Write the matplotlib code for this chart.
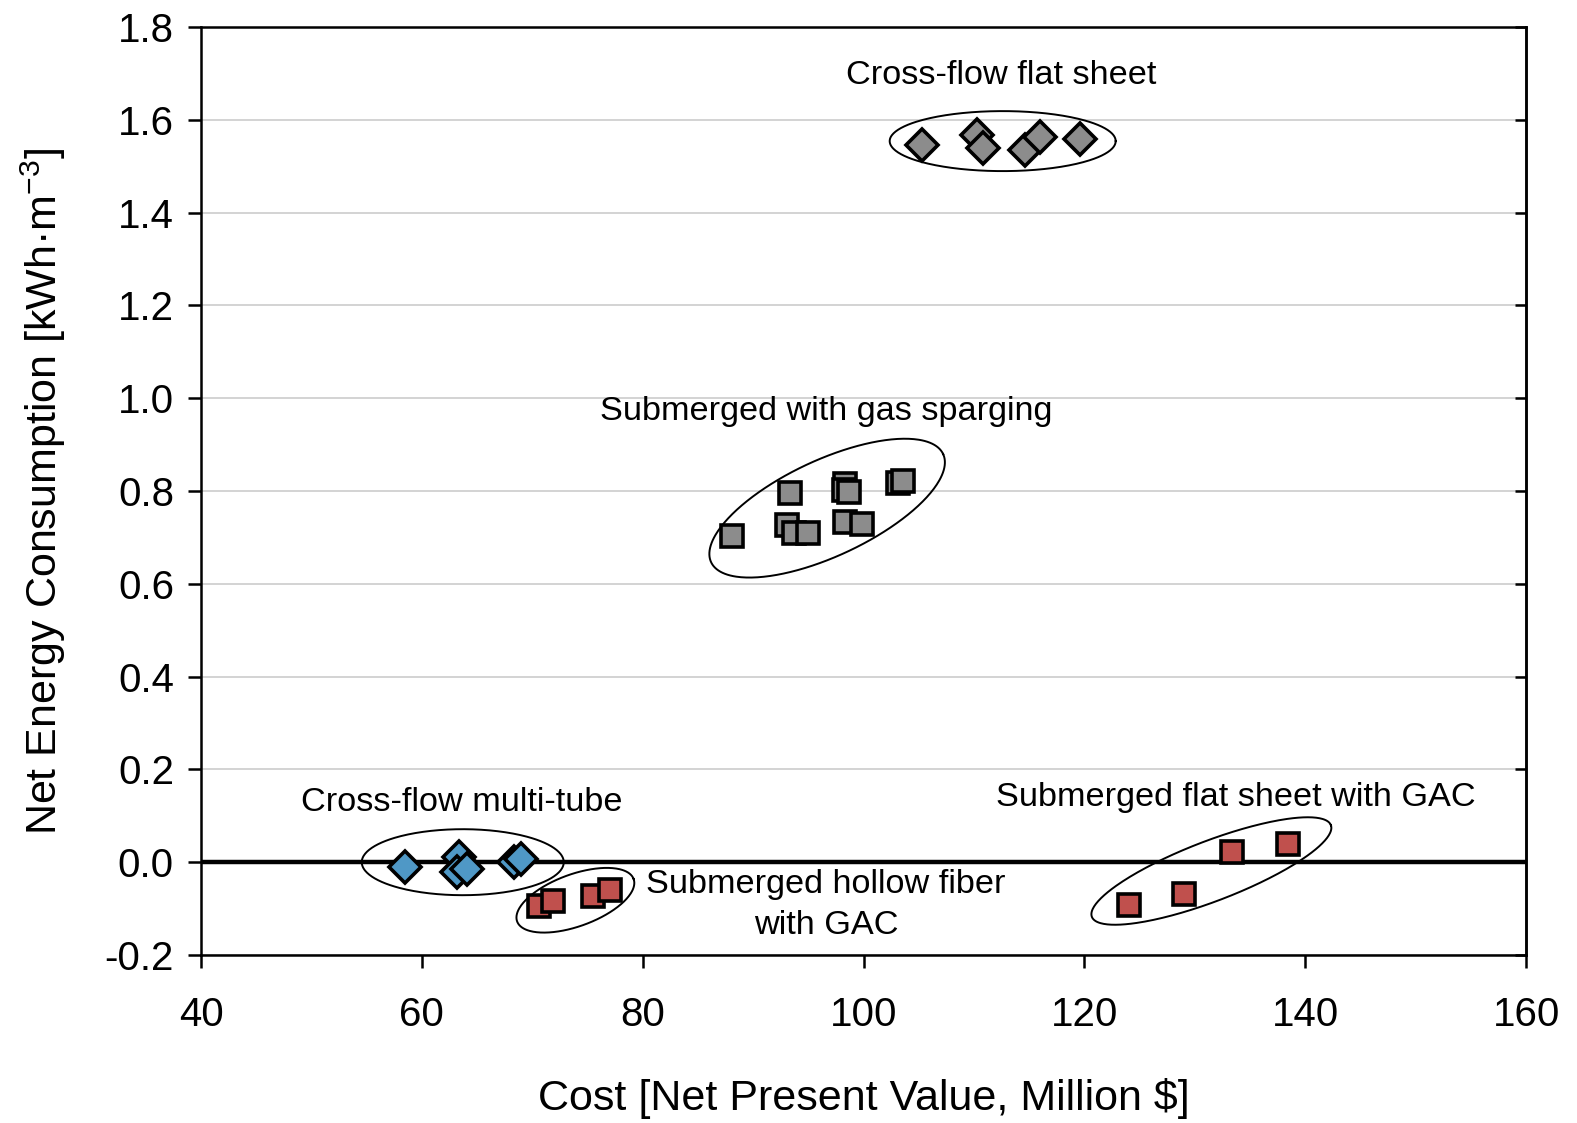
import numpy as np
import matplotlib
matplotlib.use('Agg')
import matplotlib.pyplot as plt

plt.rcParams['font.family'] = ['Liberation Sans', 'DejaVu Sans']
plt.rcParams['mathtext.fontset'] = 'custom'
plt.rcParams['mathtext.rm'] = 'Liberation Sans'
plt.rcParams['mathtext.it'] = 'Liberation Sans:italic'

# data ~~~~~~~~~~~~~~~~~~~~~~~~~~~~~~~~~~~~~~~~~~~~~~~~~~~~~~~~~~~~~~
flat_x = [105.3, 110.3, 110.8, 114.6, 116.0, 119.6]
flat_y = [1.545, 1.568, 1.540, 1.535, 1.563, 1.558]

gas_x = [88.1, 93.3, 93.1, 93.7, 95.0, 98.3, 98.2, 98.7, 98.3, 99.9, 103.1, 103.6]
gas_y = [0.703, 0.795, 0.727, 0.710, 0.710, 0.815, 0.802, 0.798, 0.733, 0.728, 0.818, 0.822]

tube_x = [58.5, 63.4, 63.2, 64.1, 68.3, 69.0]
tube_y = [-0.011, 0.011, -0.022, -0.014, 0.0, 0.007]

hollow_x = [70.6, 71.9, 75.5, 77.0]
hollow_y = [-0.095, -0.083, -0.072, -0.061]

gac_x = [124.0, 129.0, 133.4, 138.4]
gac_y = [-0.092, -0.068, 0.022, 0.040]

xticks = [40, 60, 80, 100, 120, 140, 160]
yticks = [-0.2, 0.0, 0.2, 0.4, 0.6, 0.8, 1.0, 1.2, 1.4, 1.6, 1.8]

grey = '#8c8c8c'
blue = '#4f98c6'
red = '#c0504d'

fig = plt.figure(figsize=(15.77, 11.23), dpi=100)
ax = fig.add_axes([0.1275, 0.1496, 0.8402, 0.8264])

ax.set_xlim(40, 160)
ax.set_ylim(-0.2, 1.8)

# helper: ellipse given in pixel half-axes, centred in data coords
def draw_ellipse(cx, cy, a, b, ang):
    bb = ax.get_window_extent()
    sx = bb.width / 120.0
    sy = bb.height / 2.0
    t = np.linspace(0, 2 * np.pi, 300)
    th = np.deg2rad(ang)
    dx = a * np.cos(t) * np.cos(th) - b * np.sin(t) * np.sin(th)
    dy = a * np.cos(t) * np.sin(th) + b * np.sin(t) * np.cos(th)
    ax.plot(cx + dx / sx, cy + dy / sy, color='black', lw=1.4, zorder=2)

for yv in yticks:
    if yv != 0.0:
        ax.axhline(yv, color='#d0d0d0', lw=1.3, zorder=0)
ax.axhline(0.0, color='black', lw=3.2, zorder=1)

mk = dict(markeredgecolor='black', markeredgewidth=2.6, linestyle='none', zorder=3)
ax.plot(flat_x, flat_y, 'D', markersize=16.5, color=grey, **mk)
ax.plot(gas_x, gas_y, 's', markersize=15.5, color=grey, **mk)
ax.plot(tube_x, tube_y, 'D', markersize=16.5, color=blue, **mk)
ax.plot(hollow_x, hollow_y, 's', markersize=15.5, color=red, **mk)
ax.plot(gac_x, gac_y, 's', markersize=15.5, color=red, **mk)

draw_ellipse(112.6, 1.554, 113, 30, 0)
draw_ellipse(96.7, 0.763, 128, 48, 25)
draw_ellipse(63.7, 0.0, 101, 33, 0)
draw_ellipse(73.9, -0.082, 62, 26, 20)
draw_ellipse(131.5, -0.019, 128, 30, 21)

fs = 24.7
ax.text(112.5, 1.695, 'Cross-flow flat sheet', fontsize=fs, ha='center', va='center')
ax.text(96.6, 0.972, 'Submerged with gas sparging', fontsize=fs, ha='center', va='center')
ax.text(63.6, 0.128, 'Cross-flow multi-tube', fontsize=fs, ha='center', va='center')
ax.text(133.7, 0.140, 'Submerged flat sheet with GAC', fontsize=fs, ha='center', va='center')
ax.text(96.6, -0.092, 'Submerged hollow fiber\nwith GAC', fontsize=fs, ha='center',
        va='center', linespacing=1.4)

ax.set_xticks(xticks)
ax.set_yticks(yticks)
ax.set_xticklabels([str(v) for v in xticks])
ax.set_yticklabels(['%.1f' % v for v in yticks])
ax.tick_params(axis='both', direction='out', length=9.5, width=1.8, labelsize=29)
ax.tick_params(axis='y', pad=10)
ax.tick_params(axis='x', pad=20)

sec = ax.secondary_yaxis('right')
sec.set_yticks(yticks)
sec.tick_params(direction='in', length=8, width=1.8, labelright=False)
sec.spines['right'].set_linewidth(1.8)

for s in ax.spines.values():
    s.set_linewidth(1.8)

ax.set_xlabel('Cost [Net Present Value, Million $]', fontsize=31, labelpad=32)
ax.set_ylabel('Net Energy Consumption [kWh·m$^{-3}$]', fontsize=31, labelpad=26)

fig.savefig('out.png', dpi=100)
